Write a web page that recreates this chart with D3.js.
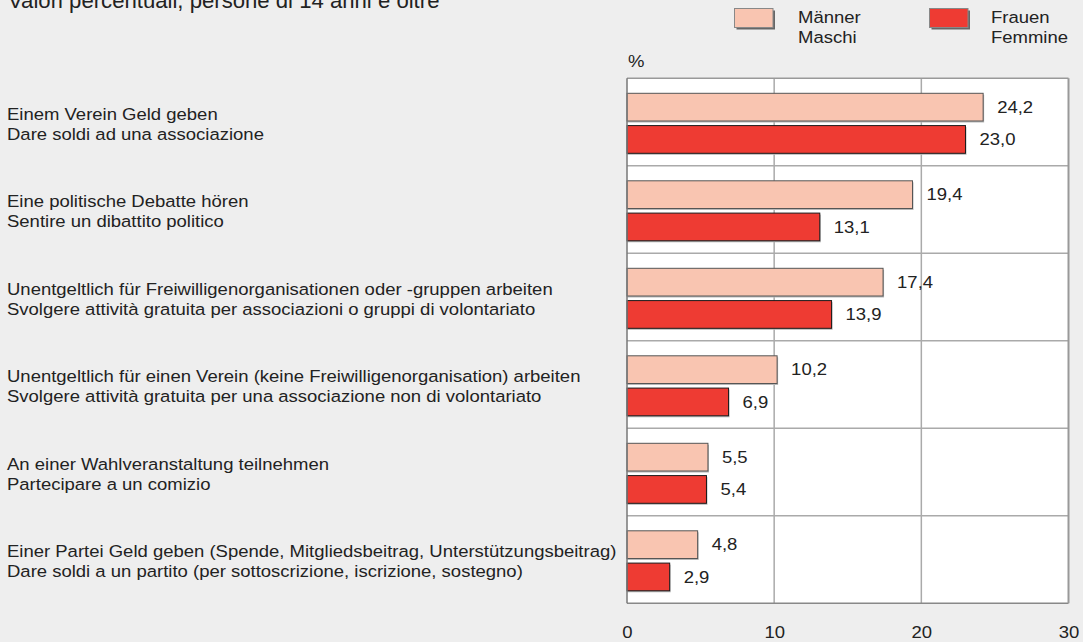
<!DOCTYPE html>
<html><head><meta charset="utf-8">
<script src="https://cdn.jsdelivr.net/npm/d3@7"></script>
<style>
html,body{margin:0;padding:0;background:#eeeeee;}
svg{display:block;font-family:"Liberation Sans",Arial,Helvetica,sans-serif;}
</style></head>
<body>
<svg id="chart" width="1083" height="642"></svg>
<script>
const categoriesDe = [
  "Einem Verein Geld geben",
  "Eine politische Debatte hören",
  "Unentgeltlich für Freiwilligenorganisationen oder -gruppen arbeiten",
  "Unentgeltlich für einen Verein (keine Freiwilligenorganisation) arbeiten",
  "An einer Wahlveranstaltung teilnehmen",
  "Einer Partei Geld geben (Spende, Mitgliedsbeitrag, Unterstützungsbeitrag)"
];
const categoriesIt = [
  "Dare soldi ad una associazione",
  "Sentire un dibattito politico",
  "Svolgere attività gratuita per associazioni o gruppi di volontariato",
  "Svolgere attività gratuita per una associazione non di volontariato",
  "Partecipare a un comizio",
  "Dare soldi a un partito (per sottoscrizione, iscrizione, sostegno)"
];
const maenner = [24.2, 19.4, 17.4, 10.2, 5.5, 4.8];
const frauen  = [23.0, 13.1, 13.9, 6.9, 5.4, 2.9];
const seriesNames = [["Männer","Maschi"],["Frauen","Femmine"]];
const xTicks = [0, 10, 20, 30];
const subtitle = "Valori percentuali, persone di 14 anni e oltre";

const colors = ["#f9c5b1", "#ee3b33"];
const strokes = ["#555555", "#1a1a1a"];
const textColor = "#222222";
const FS = 16.3;      // font size
const SX = 1.135;     // horizontal stretch of the reference lettering

const svg = d3.select("#chart");
const plot = {left: 627, right: 1068.5, top: 78.3, bottom: 603.3};

const x = d3.scaleLinear().domain([0, 30]).range([plot.left, plot.right]);
const idx = d3.range(categoriesDe.length);
const y = d3.scaleBand().domain(idx).range([plot.top, plot.bottom]).paddingInner(0).paddingOuter(0);
const inner = d3.scaleBand().domain([0, 1]).range([15, 75]).paddingInner(0.142).paddingOuter(0);

function place(sel, fx, fy, sx) {
  sel.attr("x", 0).attr("y", 0)
     .attr("transform", (d, i) => `translate(${fx(d, i)},${fy(d, i)}) scale(${sx || SX},1)`);
  return sel;
}

// subtitle
place(svg.append("text").attr("font-size", 21.5).attr("fill", textColor).text(subtitle),
  () => 8, () => 8, 1.03);

// plot background
svg.append("rect").attr("x", plot.left).attr("y", plot.top)
  .attr("width", plot.right - plot.left).attr("height", plot.bottom - plot.top).attr("fill", "#ffffff");

// vertical gridlines
svg.append("g").selectAll("line").data(xTicks.filter(t => t > 0 && t < 30)).join("line")
  .attr("x1", d => x(d)).attr("x2", d => x(d)).attr("y1", plot.top).attr("y2", plot.bottom)
  .attr("stroke", "#aaaaaa").attr("stroke-width", 1.5);

// horizontal separators
svg.append("g").selectAll("line").data(idx.slice(1)).join("line")
  .attr("x1", plot.left).attr("x2", plot.right).attr("y1", d => y(d)).attr("y2", d => y(d))
  .attr("stroke", "#aaaaaa").attr("stroke-width", 1.5);

// bars
const series = [maenner, frauen];
series.forEach((vals, s) => {
  const g = svg.append("g");
  g.selectAll("rect.sh").data(vals).join("rect").attr("class", "sh")
    .attr("x", x(0)).attr("y", (d, i) => y(i) + inner(s) + 1.5)
    .attr("width", d => x(d) - x(0) + 1).attr("height", inner.bandwidth())
    .attr("fill", "#b8b8b8");
  g.selectAll("rect.bar").data(vals).join("rect").attr("class", "bar")
    .attr("x", x(0)).attr("y", (d, i) => y(i) + inner(s))
    .attr("width", d => x(d) - x(0)).attr("height", inner.bandwidth())
    .attr("fill", colors[s]).attr("stroke", strokes[s]).attr("stroke-width", 1);
  place(g.selectAll("text").data(vals).join("text")
    .attr("font-size", FS).attr("fill", textColor)
    .text(d => d.toFixed(1).replace(".", ",")),
    d => x(d) + 14, (d, i) => y(i) + inner(s) + inner.bandwidth() / 2 + 5.8);
});

// plot border
svg.append("line").attr("x1", plot.left).attr("x2", plot.right).attr("y1", plot.top).attr("y2", plot.top)
  .attr("stroke", "#999999").attr("stroke-width", 1.5);
svg.append("line").attr("x1", plot.left).attr("x2", plot.right).attr("y1", plot.bottom).attr("y2", plot.bottom)
  .attr("stroke", "#888888").attr("stroke-width", 1.5);
svg.append("line").attr("x1", plot.right).attr("x2", plot.right).attr("y1", plot.top).attr("y2", plot.bottom)
  .attr("stroke", "#999999").attr("stroke-width", 2);
svg.append("line").attr("x1", plot.left).attr("x2", plot.left).attr("y1", plot.top).attr("y2", plot.bottom)
  .attr("stroke", "#777777").attr("stroke-width", 1.5);

// x axis labels
const xAxis = d3.axisBottom(x).tickValues(xTicks).tickSize(0).tickPadding(0).tickFormat(d3.format("d"));
const ax = svg.append("g").attr("transform", `translate(0,${plot.bottom})`).call(xAxis);
ax.select(".domain").remove();
ax.selectAll("text").attr("font-size", FS).attr("fill", textColor)
  .attr("font-family", "Liberation Sans, Arial, sans-serif").attr("dy", null)
  .attr("y", 0).attr("transform", `translate(0,35) scale(${SX},1)`);

// % label
place(svg.append("text").attr("font-size", FS).attr("fill", textColor).text("%"), () => 628, () => 66.5);

// category labels
const cat = svg.append("g");
place(cat.selectAll("text.de").data(categoriesDe).join("text").attr("class", "de")
  .attr("font-size", FS).attr("fill", textColor).text(d => d),
  () => 7, (d, i) => y(i) + y.bandwidth() / 2 - 2.5);
place(cat.selectAll("text.it").data(categoriesIt).join("text").attr("class", "it")
  .attr("font-size", FS).attr("fill", textColor).text(d => d),
  () => 7, (d, i) => y(i) + y.bandwidth() / 2 + 17.5);

// legend
const legendX = [734.5, 929.5];
const legendTextX = [798, 991];
seriesNames.forEach((names, s) => {
  const g = svg.append("g");
  g.append("rect").attr("x", legendX[s] + 2).attr("y", 10.5).attr("width", 38.5).attr("height", 19).attr("fill", "#666666");
  g.append("rect").attr("x", legendX[s]).attr("y", 8.5).attr("width", 38.5).attr("height", 19)
    .attr("fill", colors[s]).attr("stroke", "#888888").attr("stroke-width", 1);
  place(g.selectAll("text").data(names).join("text")
    .attr("font-size", FS).attr("fill", textColor).text(d => d),
    () => legendTextX[s], (d, i) => 23.3 + i * 19.5);
});
</script>
</body></html>
